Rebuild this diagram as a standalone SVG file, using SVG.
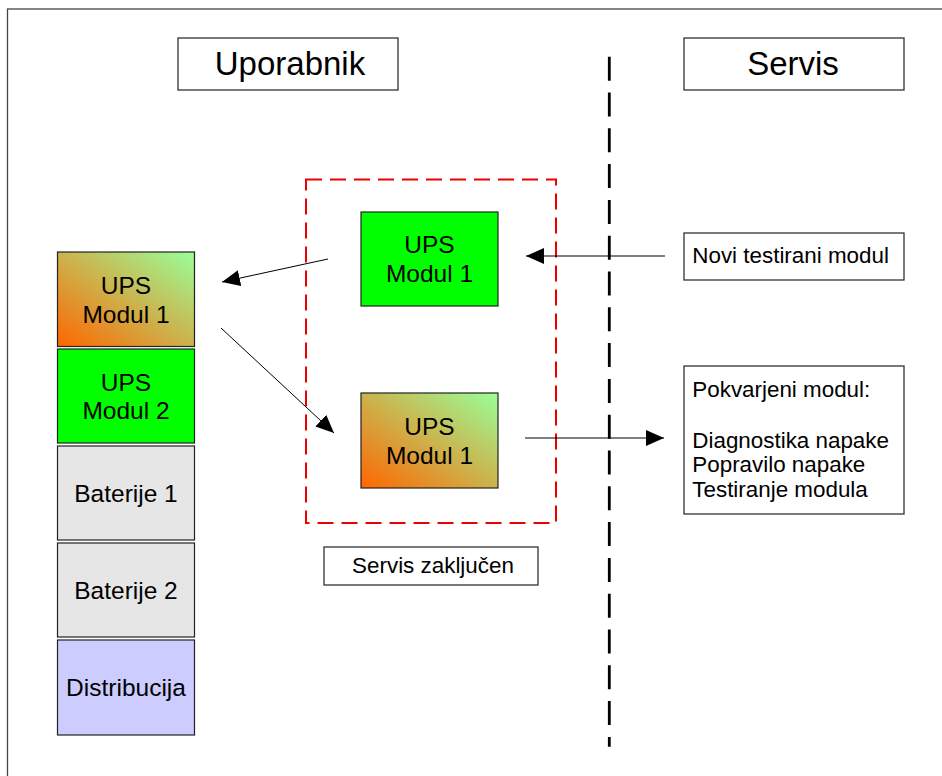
<svg xmlns="http://www.w3.org/2000/svg" width="942" height="776" viewBox="0 0 942 776">
<style>
text{font-family:"Liberation Sans",Arial,sans-serif;fill:#000}
.box{stroke:#222;stroke-width:1.2}
.big{font-size:24.5px;text-anchor:middle}
.hdr{font-size:33px;text-anchor:middle}
.sm{font-size:22.4px}
.conn{stroke:#000;stroke-width:1;fill:none}
</style>
<defs>
<linearGradient id="og" x1="0" y1="1" x2="1" y2="0">
<stop offset="0" stop-color="#ff6600"/>
<stop offset="1" stop-color="#99ff99"/>
</linearGradient>
<marker id="ah" markerUnits="userSpaceOnUse" markerWidth="19" markerHeight="17" refX="18" refY="8" orient="auto">
<path d="M0,0 L18,8 L0,16 z" fill="#000"/>
</marker>
</defs>
<rect x="0" y="0" width="942" height="776" fill="#fff"/>
<rect x="7.5" y="9" width="1000" height="1000" fill="none" stroke="#444" stroke-width="1.3"/>

<g id="hdr-uporabnik"><rect class="box" x="178" y="38" width="220" height="52" fill="#fff"/><text class="hdr" x="290" y="75">Uporabnik</text></g>
<g id="hdr-servis"><rect class="box" x="684" y="38" width="220" height="52" fill="#fff"/><text class="hdr" x="793" y="75">Servis</text></g>

<g id="divider"><line x1="609.3" y1="56.7" x2="609.3" y2="746.7" stroke="#000" stroke-width="2.8" stroke-dasharray="24 11.8"/></g>

<g id="service-area"><rect x="306" y="179.5" width="250" height="343.5" fill="none" stroke="#e00" stroke-width="2" stroke-dasharray="16 8"/></g>

<g id="left-ups1"><rect class="box" x="57.5" y="252" width="137" height="94.5" fill="url(#og)"/><text class="big" x="126" y="294">UPS</text><text class="big" x="126" y="322.5">Modul 1</text></g>
<g id="left-ups2"><rect class="box" x="57.5" y="349" width="137" height="94" fill="#00ff00"/><text class="big" x="126" y="390.5">UPS</text><text class="big" x="126" y="419">Modul 2</text></g>
<g id="left-bat1"><rect class="box" x="57.5" y="446" width="137" height="94" fill="#e6e6e6"/><text class="big" x="126" y="501.5">Baterije 1</text></g>
<g id="left-bat2"><rect class="box" x="57.5" y="543" width="137" height="94" fill="#e6e6e6"/><text class="big" x="126" y="598.5">Baterije 2</text></g>
<g id="left-dist"><rect class="box" x="57.5" y="640" width="137" height="95" fill="#ccccff"/><text class="big" x="126" y="695.5">Distribucija</text></g>

<g id="new-ups"><rect class="box" x="361" y="212" width="137" height="94" fill="#00ff00"/><text class="big" x="429.5" y="253.3">UPS</text><text class="big" x="429.5" y="281.7">Modul 1</text></g>
<g id="old-ups"><rect class="box" x="361" y="393" width="137" height="95" fill="url(#og)"/><text class="big" x="429.5" y="435">UPS</text><text class="big" x="429.5" y="463.5">Modul 1</text></g>

<g id="servis-zakljucen"><rect class="box" x="324" y="547" width="214" height="38" fill="#fff"/><text class="sm" x="433" y="573.3" text-anchor="middle">Servis zaključen</text></g>

<g id="novi-modul"><rect class="box" x="684" y="233" width="220" height="47" fill="#fff"/><text class="sm" x="692.3" y="263.3">Novi testirani modul</text></g>

<g id="pokvarjeni-modul"><rect class="box" x="684" y="366" width="220" height="148" fill="#fff"/>
<text class="sm" x="692.3" y="396.7">Pokvarjeni modul:</text>
<text class="sm" x="692.3" y="447.7">Diagnostika napake</text>
<text class="sm" x="692.3" y="472.3">Popravilo napake</text>
<text class="sm" x="692.3" y="497.3">Testiranje modula</text></g>

<g id="connectors">
<line class="conn" x1="665" y1="256" x2="526" y2="256" marker-end="url(#ah)"/>
<line class="conn" x1="525" y1="438" x2="664" y2="438" marker-end="url(#ah)"/>
<line class="conn" x1="328" y1="259" x2="222" y2="282" marker-end="url(#ah)"/>
<line class="conn" x1="221" y1="328" x2="334" y2="433" marker-end="url(#ah)"/>
</g>
</svg>
